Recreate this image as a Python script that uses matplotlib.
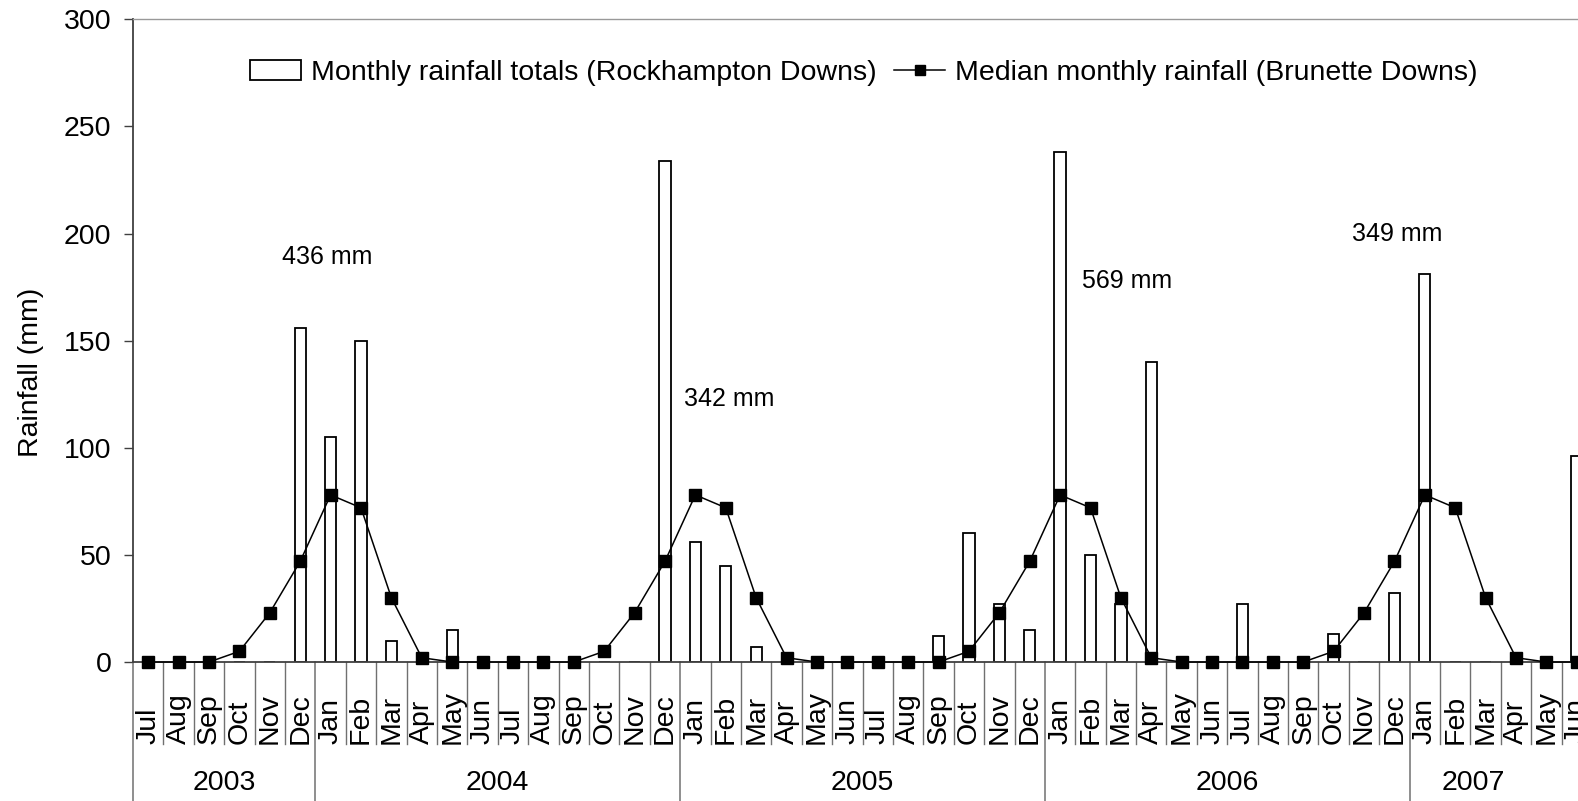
import numpy as np
import matplotlib
matplotlib.use('Agg')
import matplotlib.pyplot as plt
from matplotlib.patches import Patch
from matplotlib.lines import Line2D

plt.rcParams['font.family'] = ['Liberation Sans', 'DejaVu Sans']

# monthly series, Jul 2003 - Jun 2007
month_names = ['Jul', 'Aug', 'Sep', 'Oct', 'Nov', 'Dec',
               'Jan', 'Feb', 'Mar', 'Apr', 'May', 'Jun']
months = month_names * 4

# Rockhampton Downs monthly totals (mm)
rainfall = [0, 0, 0, 0, 0, 156, 105, 150, 10, 0, 15, 0,
            0, 0, 0, 0, 0, 234, 56, 45, 7, 0, 0, 0,
            0, 0, 12, 60, 27, 15, 238, 50, 27, 140, 0, 0,
            27, 0, 0, 13, 0, 32, 181, 0, 0, 0, 0, 96]

# Brunette Downs median monthly rainfall (mm)
median = [0, 0, 0, 5, 23, 47, 78, 72, 30, 2, 0, 0,
          0, 0, 0, 5, 23, 47, 78, 72, 30, 2, 0, 0,
          0, 0, 0, 5, 23, 47, 78, 72, 30, 2, 0, 0,
          0, 0, 0, 5, 23, 47, 78, 72, 30, 2, 0, 0]

years = ['2003', '2004', '2005', '2006', '2007']
year_pos = [2.5, 11.5, 23.5, 35.5, 43.6]
year_starts = [0, 6, 18, 30, 42]

# seasonal totals written on the chart
season_labels = ['436 mm', '342 mm', '569 mm', '349 mm']
season_x = [5.9, 19.1, 32.2, 41.1]
season_y = [189, 123, 178, 200]

FS = 20.5
x = np.arange(len(months))

fig = plt.figure(figsize=(15.78, 8.01), dpi=100)
ax = fig.add_axes([0.0843, 0.1735, 0.9246, 0.8024])

ax.bar(x, rainfall, width=0.37, color='white', edgecolor='black', linewidth=1.3, zorder=2)
ax.plot(x, median, color='black', linewidth=1.1, marker='s', markersize=8, zorder=3, clip_on=False)

ax.set_xlim(-0.5, len(months) - 0.5)
ax.set_ylim(0, 300)
ax.set_yticks(np.arange(0, 301, 50))
ax.tick_params(axis='y', labelsize=FS, length=6.5, width=1, color='#404040', pad=9)
ax.set_xticks([])
ax.set_ylabel('Rainfall (mm)', fontsize=FS)
ax.yaxis.set_label_coords(-0.061, 0.45)

for s in ['left', 'bottom']:
    ax.spines[s].set_color('#404040')
    ax.spines[s].set_linewidth(1.3)
ax.spines['top'].set_color('#999999')
ax.spines['top'].set_linewidth(1.0)
ax.spines['right'].set_visible(False)

# month labels and the category grid below the axis
trans = ax.get_xaxis_transform()
for i, m in enumerate(months):
    ax.text(i, -0.127, m, rotation=90, ha='center', va='bottom',
            fontsize=FS, transform=trans)
for i in range(len(months)):
    if i in year_starts:
        ax.plot([i - 0.5, i - 0.5], [0, -0.25], color='#707070', lw=1.1,
                transform=trans, clip_on=False)
    else:
        ax.plot([i - 0.5, i - 0.5], [0, -0.128], color='#707070', lw=1.0,
                transform=trans, clip_on=False)
for yr, xp in zip(years, year_pos):
    ax.text(xp, -0.188, yr, ha='center', va='center', fontsize=FS, transform=trans)

for lab, tx, ty in zip(season_labels, season_x, season_y):
    ax.text(tx, ty, lab, ha='center', va='center', fontsize=18)

handles = [Patch(facecolor='white', edgecolor='black', linewidth=1.3),
           Line2D([], [], color='black', linewidth=1.1, marker='s', markersize=7)]
labels = ['Monthly rainfall totals (Rockhampton Downs)',
          'Median monthly rainfall (Brunette Downs)']
ax.legend(handles, labels, loc='center', bbox_to_anchor=(0.501, 0.917), ncol=2,
          frameon=False, fontsize=FS, handlelength=1.8, handletextpad=0.35,
          columnspacing=0.6)

fig.savefig('out.png', dpi=100)
